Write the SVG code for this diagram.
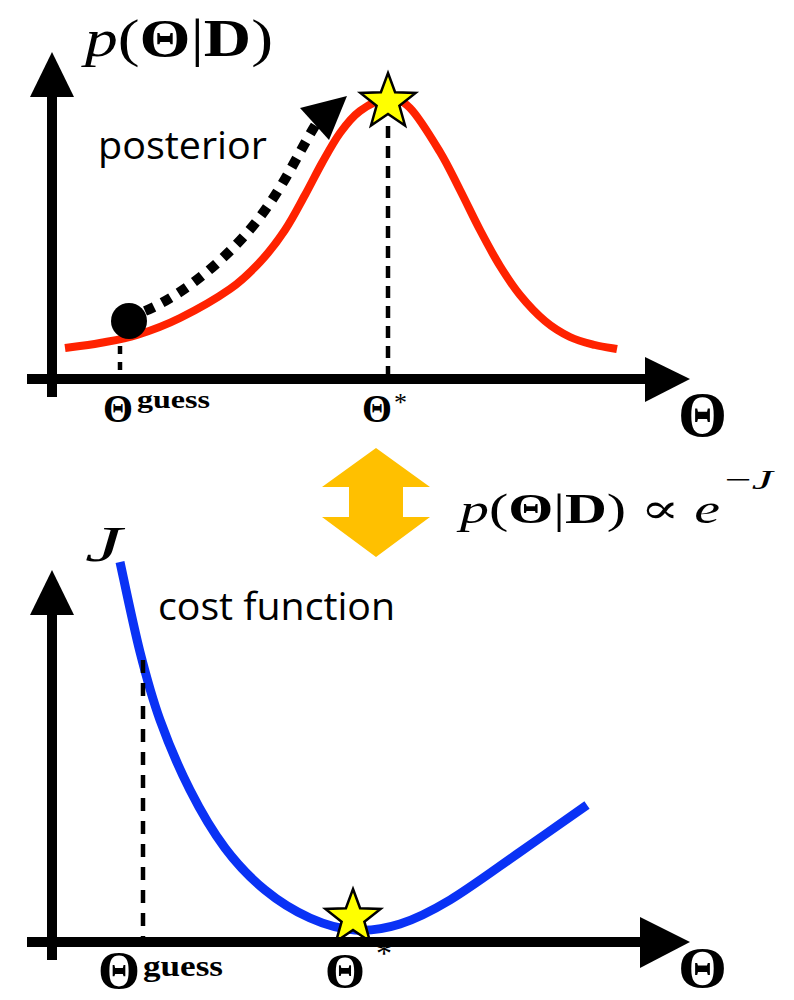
<svg xmlns="http://www.w3.org/2000/svg" width="794" height="1000" viewBox="0 0 794 1000">
<style>
.axis{stroke:#000;stroke-width:10;fill:none}
.head{fill:#000}
.vdash{stroke:#000;stroke-width:4.5;fill:none}
.math{font-family:"Liberation Serif","DejaVu Serif",serif;fill:#000}
.b{font-weight:bold}
.it{font-style:italic}
.lbl{font-family:"Open Sans","Liberation Sans",sans-serif;fill:#000}
.star{fill:#ffff00;stroke:#000;stroke-width:2.5;stroke-linejoin:miter}
</style>
<defs>
<path id="starShape" d="M0,-29 L7.1,-9.7 L27.6,-9 L11.4,3.7 L17,23.5 L0,12 L-17,23.5 L-11.4,3.7 L-27.6,-9 L-7.1,-9.7 Z"/>
</defs>
<rect width="794" height="1000" fill="#fff"/>

<g id="top-plot">
  <g id="top-axes">
    <line class="axis" x1="52" y1="95" x2="52" y2="397"/>
    <polygon class="head" points="30,97 52,52 74,97"/>
    <line class="axis" x1="27" y1="379" x2="647" y2="379"/>
    <polygon class="head" points="645,357 690,379 645,402"/>
  </g>
  <g id="posterior-curve">
    <path d="M65,348 C70.8,347.2 88,345.2 100,343 C112,340.8 123.7,339.2 137,335 C150.3,330.8 164.5,325.7 180,318 C195.5,310.3 216.7,298.3 230,289 C243.3,279.7 250.8,271.8 260,262 C269.2,252.2 277.5,241.2 285,230 C292.5,218.8 298.8,206.2 305,195 C311.2,183.8 316.2,173.3 322,163 C327.8,152.7 333.7,141.7 340,133 C346.3,124.3 352.2,116.7 360,111 C367.8,105.3 378.7,99.5 387,99 C395.3,98.5 401.2,99.2 410,108 C418.8,116.8 431.7,138.3 440,152 C448.3,165.7 453.3,177 460,190 C466.7,203 473.3,217.3 480,230 C486.7,242.7 493.3,255.2 500,266 C506.7,276.8 512.5,285.8 520,295 C527.5,304.2 536.7,314 545,321 C553.3,328 561.7,333 570,337 C578.3,341 587.2,343 595,345 C602.8,347 613.3,348.3 617,349" fill="none" stroke="#ff2200" stroke-width="8"/>
  </g>
  <g id="top-guides">
    <line class="vdash" x1="388" y1="126" x2="388" y2="374" stroke-dasharray="12 8"/>
    <line class="vdash" x1="120" y1="346" x2="120" y2="374" stroke-dasharray="8 8"/>
  </g>
  <g id="top-labels">
    <text class="math" x="85" y="56" font-size="52" textLength="188" lengthAdjust="spacingAndGlyphs"><tspan class="it">p</tspan>(<tspan class="b">Θ</tspan>|<tspan class="b">D</tspan>)</text>
    <text class="lbl" x="98" y="159" font-size="38" textLength="169" lengthAdjust="spacingAndGlyphs">posterior</text>
    <text class="math b" x="103" y="422" font-size="40" textLength="30" lengthAdjust="spacingAndGlyphs">Θ</text>
    <text class="math b" x="137" y="408" font-size="26" textLength="73" lengthAdjust="spacingAndGlyphs">guess</text>
    <text class="math b" x="362" y="422" font-size="40" textLength="30" lengthAdjust="spacingAndGlyphs">Θ</text>
    <text class="math" x="394" y="411" font-size="26">*</text>
    <text class="math b" x="678" y="436" font-size="64" textLength="49" lengthAdjust="spacingAndGlyphs">Θ</text>
  </g>
</g>

<g id="connectors">
  <path d="M145,311 C190,292 235,250 260,217 S300,150 316,124" fill="none" stroke="#000" stroke-width="10" stroke-dasharray="10 9"/>
  <polygon class="head" points="300,108 347,96 329,140"/>
</g>

<g id="guess-point">
  <circle cx="129" cy="321" r="18" fill="#000"/>
</g>
<g id="map-star">
  <use href="#starShape" class="star" x="388" y="102"/>
</g>

<g id="equivalence">
  <polygon points="376,448 430,487 403,487 403,517 430,517 376,557 322,517 349,517 349,487 322,487" fill="#ffc000"/>
  <text class="math" x="460" y="523" font-size="42" textLength="260" lengthAdjust="spacingAndGlyphs"><tspan class="it">p</tspan>(<tspan class="b">Θ</tspan>|<tspan class="b">D</tspan>) ∝ <tspan class="it">e</tspan></text>
  <text class="math" x="725" y="489" font-size="28" textLength="48" lengthAdjust="spacingAndGlyphs">−<tspan class="it">J</tspan></text>
</g>

<g id="bottom-plot">
  <g id="bottom-y-axis">
    <line class="axis" x1="52" y1="613" x2="52" y2="960"/>
    <polygon class="head" points="30,615 52,570 74,615"/>
  </g>
  <g id="cost-curve">
    <path d="M120,562 C123.3,577 133.3,625.7 140,652 C146.7,678.3 151.7,697 160,720 C168.3,743 179.2,768.7 190,790 C200.8,811.3 212.5,831.3 225,848 C237.5,864.7 250.8,878.3 265,890 C279.2,901.7 295,911.3 310,918 C325,924.7 340,929 355,930 C370,931 384.2,929 400,924 C415.8,919 430,912 450,900 C470,888 497.2,867.8 520,852 C542.8,836.2 575.8,812.8 587,805" fill="none" stroke="#0a32f5" stroke-width="9"/>
  </g>
  <line class="vdash" x1="143" y1="660" x2="143" y2="937" stroke-dasharray="13 10"/>
  <g id="min-star">
    <use href="#starShape" class="star" x="353" y="918"/>
  </g>
  <g id="bottom-x-axis">
    <line class="axis" x1="27" y1="942" x2="642" y2="942"/>
    <polygon class="head" points="640,917 690,942 640,968"/>
  </g>
  <g id="bottom-labels">
    <text class="math it" x="85" y="561" font-size="50" textLength="37" lengthAdjust="spacingAndGlyphs">J</text>
    <text class="lbl" x="158" y="620" font-size="38" textLength="237" lengthAdjust="spacingAndGlyphs">cost function</text>
    <text class="math b" x="98" y="988" font-size="52" textLength="42" lengthAdjust="spacingAndGlyphs">Θ</text>
    <text class="math b" x="143" y="976" font-size="30" textLength="80" lengthAdjust="spacingAndGlyphs">guess</text>
    <text class="math b" x="325" y="988" font-size="50" textLength="40" lengthAdjust="spacingAndGlyphs">Θ</text>
    <text class="math" x="376" y="964" font-size="32">*</text>
    <text class="math b" x="678" y="987" font-size="58" textLength="49" lengthAdjust="spacingAndGlyphs">Θ</text>
  </g>
</g>
</svg>
